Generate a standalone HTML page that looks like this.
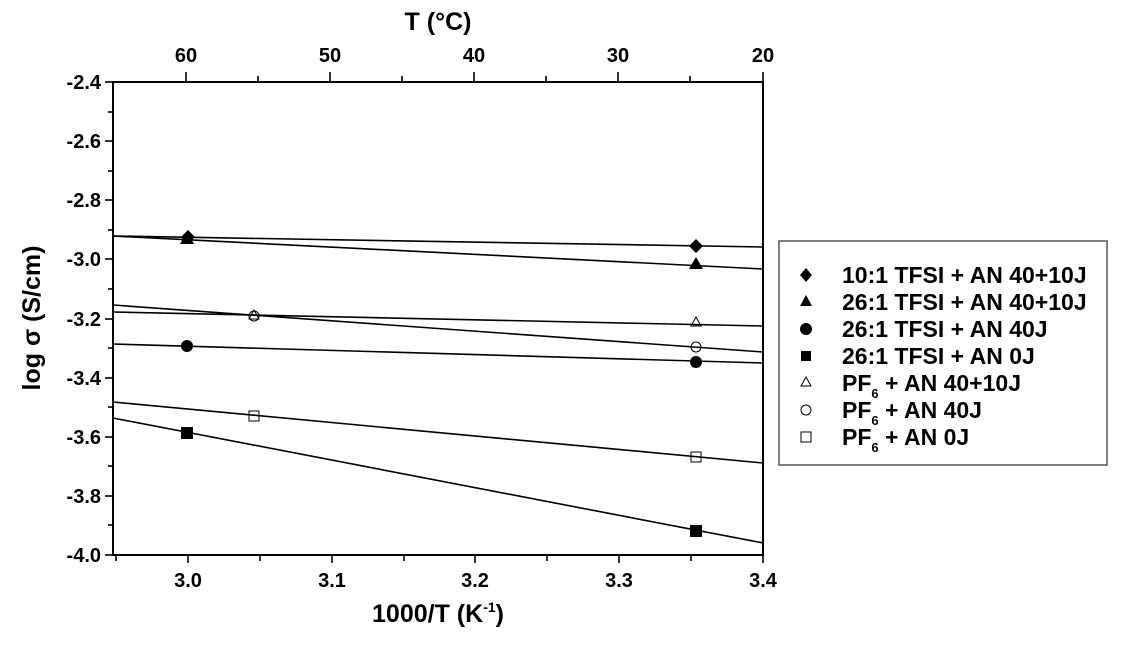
<!DOCTYPE html><html><head><style>body{margin:0;background:#fff}svg{font-family:"Liberation Sans",Arial,sans-serif;font-weight:bold}</style></head><body>
<svg width="1121" height="654" viewBox="0 0 1121 654">
<g stroke="#000" stroke-width="2" fill="none">
<rect x="113" y="82" width="650" height="473"/>
</g>
<g stroke="#000" stroke-width="1.6">
<line x1="116" y1="555" x2="116" y2="561"/><line x1="188" y1="555" x2="188" y2="563"/><line x1="260" y1="555" x2="260" y2="561"/><line x1="332" y1="555" x2="332" y2="563"/><line x1="404" y1="555" x2="404" y2="561"/><line x1="475" y1="555" x2="475" y2="563"/><line x1="547" y1="555" x2="547" y2="561"/><line x1="619" y1="555" x2="619" y2="563"/><line x1="691" y1="555" x2="691" y2="561"/><line x1="763" y1="555" x2="763" y2="563"/>
<line x1="186" y1="82" x2="186" y2="72"/><line x1="258" y1="82" x2="258" y2="76"/><line x1="330" y1="82" x2="330" y2="72"/><line x1="402" y1="82" x2="402" y2="76"/><line x1="474" y1="82" x2="474" y2="72"/><line x1="546" y1="82" x2="546" y2="76"/><line x1="618" y1="82" x2="618" y2="72"/><line x1="690" y1="82" x2="690" y2="76"/><line x1="763" y1="82" x2="763" y2="72"/>
<line x1="105" y1="82" x2="113" y2="82"/><line x1="108" y1="112" x2="113" y2="112"/><line x1="105" y1="141" x2="113" y2="141"/><line x1="108" y1="171" x2="113" y2="171"/><line x1="105" y1="200" x2="113" y2="200"/><line x1="108" y1="230" x2="113" y2="230"/><line x1="105" y1="259" x2="113" y2="259"/><line x1="108" y1="289" x2="113" y2="289"/><line x1="105" y1="319" x2="113" y2="319"/><line x1="108" y1="348" x2="113" y2="348"/><line x1="105" y1="378" x2="113" y2="378"/><line x1="108" y1="407" x2="113" y2="407"/><line x1="105" y1="437" x2="113" y2="437"/><line x1="108" y1="466" x2="113" y2="466"/><line x1="105" y1="496" x2="113" y2="496"/><line x1="108" y1="525" x2="113" y2="525"/><line x1="105" y1="555" x2="113" y2="555"/>
<line x1="113" y1="236" x2="763" y2="247"/>
<line x1="113" y1="236" x2="763" y2="269"/>
<line x1="113" y1="312" x2="763" y2="326"/>
<line x1="113" y1="305" x2="763" y2="352"/>
<line x1="113" y1="344" x2="763" y2="363"/>
<line x1="113" y1="402" x2="763" y2="463"/>
<line x1="113" y1="418" x2="763" y2="543"/>
</g>
<g font-size="20" text-anchor="end">
<text x="101" y="89">-2.4</text><text x="101" y="148">-2.6</text><text x="101" y="207">-2.8</text><text x="101" y="266">-3.0</text><text x="101" y="326">-3.2</text><text x="101" y="385">-3.4</text><text x="101" y="444">-3.6</text><text x="101" y="503">-3.8</text><text x="101" y="562">-4.0</text>
</g>
<g font-size="20" text-anchor="middle">
<text x="188" y="587">3.0</text><text x="332" y="587">3.1</text><text x="475" y="587">3.2</text><text x="619" y="587">3.3</text><text x="763" y="587">3.4</text>
<text x="186" y="62">60</text><text x="330" y="62">50</text><text x="474" y="62">40</text><text x="618" y="62">30</text><text x="763" y="62">20</text>
<text x="438" y="30" font-size="25">T (°C)</text>
<text x="438" y="622" font-size="25">1000/T (K<tspan font-size="14" dy="-10">-1</tspan><tspan dy="10">)</tspan></text>
<text transform="translate(40,318) rotate(-90)" font-size="25">log σ (S/cm)</text>
</g>
<g fill="#000">
<polygon points="188,230 195,237 188,244 181,237"/><polygon points="696,239 703,246 696,253 689,246"/>
<polygon points="187,232 194,244 180,244"/><polygon points="696,257 703,269 689,269"/>
<circle cx="187" cy="346" r="6"/><circle cx="696" cy="362" r="6"/>
<rect x="181" y="427" width="12" height="12"/><rect x="690" y="525" width="12" height="12"/>
</g>
<g fill="none" stroke="#000" stroke-width="1">
<polygon points="254,310 259,319 249,319"/><circle cx="254" cy="316" r="5"/>
<polygon points="696,317 701,326 691,326"/><circle cx="696" cy="347" r="5"/>
<rect x="249" y="411" width="10" height="10"/><rect x="691" y="452" width="10" height="10"/>
</g>
<rect x="779" y="241" width="328" height="224" fill="none" stroke="#555" stroke-width="1.5"/>
<g fill="#000">
<polygon points="806,268 812,275 806,282 800,275"/>
<polygon points="806,295 812,306 800,306"/>
<circle cx="806" cy="329" r="6"/>
<rect x="801" y="351" width="10" height="10"/>
</g>
<g fill="none" stroke="#000" stroke-width="1">
<polygon points="806,377 811,386 801,386"/>
<circle cx="806" cy="410" r="5"/>
<rect x="801" y="432" width="10" height="10"/>
</g>
<g font-size="23">
<text x="842" y="283">10:1 TFSI + AN 40+10J</text>
<text x="842" y="310">26:1 TFSI + AN 40+10J</text>
<text x="842" y="337">26:1 TFSI + AN 40J</text>
<text x="842" y="364">26:1 TFSI + AN 0J</text>
<text x="842" y="391">PF<tspan font-size="13" dy="7">6</tspan><tspan dy="-7"> + AN 40+10J</tspan></text>
<text x="842" y="418">PF<tspan font-size="13" dy="7">6</tspan><tspan dy="-7"> + AN 40J</tspan></text>
<text x="842" y="445">PF<tspan font-size="13" dy="7">6</tspan><tspan dy="-7"> + AN 0J</tspan></text>
</g>
</svg></body></html>
